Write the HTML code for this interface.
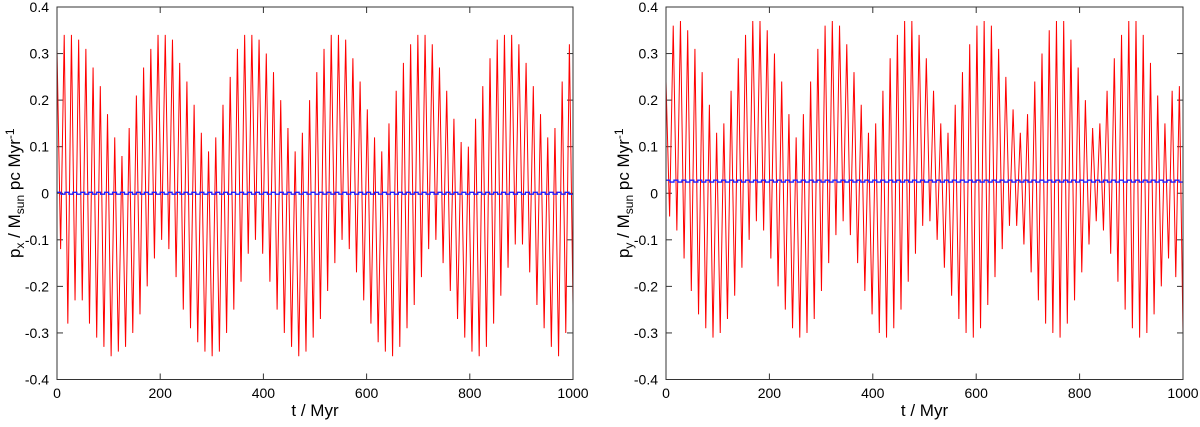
<!DOCTYPE html>
<html><head><meta charset="utf-8"><style>
body{margin:0;background:#fff;}
svg text{font-family:"Liberation Sans",sans-serif;fill:#000;}
</style></head><body>
<svg id="chart" width="1200" height="422" xmlns="http://www.w3.org/2000/svg"></svg>
<script>
const xTicks=[0,200,400,600,800,1000];
const yTicks=[-0.4,-0.3,-0.2,-0.1,0,0.1,0.2,0.3,0.4];
const yTickLabels=["-0.4","-0.3","-0.2","-0.1","0","0.1","0.2","0.3","0.4"];
const leftMax=[0.31,0.34,0.34,0.33,0.31,0.27,0.23,0.17,0.12,
0.08,0.14,0.21,0.27,0.31,0.34,0.34,0.33,0.28,
0.24,0.19,0.13,0.09,0.12,0.19,0.25,0.31,0.34,
0.34,0.33,0.30,0.26,0.20,0.14,0.09,0.13,0.20,
0.26,0.31,0.34,0.34,0.33,0.29,0.24,0.18,0.12,
0.09,0.15,0.22,0.28,0.32,0.34,0.34,0.32,0.27,
0.22,0.16,0.11,0.10,0.16,0.23,0.29,0.33,0.34,
0.34,0.32,0.28,0.23,0.17,0.12,0.14,0.24,0.32];
const leftMin=[-0.12,-0.28,-0.23,-0.23,-0.28,-0.31,-0.33,-0.35,-0.34,
-0.33,-0.30,-0.26,-0.20,-0.14,-0.10,-0.12,-0.18,-0.25,
-0.29,-0.32,-0.34,-0.35,-0.34,-0.30,-0.25,-0.19,-0.13,
-0.10,-0.13,-0.19,-0.25,-0.30,-0.33,-0.35,-0.34,-0.31,
-0.27,-0.21,-0.15,-0.10,-0.12,-0.17,-0.23,-0.28,-0.32,
-0.34,-0.35,-0.33,-0.29,-0.24,-0.18,-0.12,-0.10,-0.15,
-0.21,-0.27,-0.31,-0.34,-0.35,-0.33,-0.28,-0.22,-0.16,
-0.11,-0.11,-0.17,-0.24,-0.29,-0.33,-0.35,-0.30,-0.24];
const rightMax=[0.24,0.36,0.37,0.35,0.31,0.26,0.19,0.13,0.15,
0.22,0.29,0.34,0.37,0.37,0.35,0.30,0.24,0.17,
0.12,0.17,0.24,0.31,0.36,0.37,0.36,0.32,0.26,
0.19,0.13,0.15,0.22,0.29,0.34,0.37,0.37,0.34,
0.29,0.22,0.15,0.13,0.19,0.26,0.32,0.36,0.37,
0.36,0.31,0.25,0.18,0.13,0.17,0.24,0.30,0.35,
0.37,0.37,0.33,0.27,0.20,0.14,0.15,0.22,0.29,
0.34,0.37,0.37,0.34,0.28,0.21,0.15,0.22,0.23];
const rightMin=[-0.05,-0.08,-0.14,-0.21,-0.26,-0.29,-0.31,-0.30,-0.27,
-0.22,-0.16,-0.10,-0.06,-0.08,-0.14,-0.20,-0.25,-0.29,
-0.31,-0.30,-0.27,-0.21,-0.15,-0.09,-0.06,-0.09,-0.15,
-0.21,-0.26,-0.30,-0.31,-0.29,-0.25,-0.19,-0.13,-0.07,
-0.06,-0.10,-0.16,-0.22,-0.27,-0.30,-0.31,-0.29,-0.24,
-0.18,-0.12,-0.07,-0.07,-0.11,-0.17,-0.23,-0.28,-0.30,
-0.31,-0.28,-0.23,-0.17,-0.11,-0.06,-0.08,-0.13,-0.19,
-0.25,-0.29,-0.31,-0.30,-0.26,-0.20,-0.14,-0.18,-0.30];
const leftBlue=[0.002,-0.002];
const rightBlue=[0.028,0.024];

const NS="http://www.w3.org/2000/svg";
const svg=document.getElementById('chart');
function mk(tag,attrs,parent){const e=document.createElementNS(NS,tag);for(const k in attrs)e.setAttribute(k,attrs[k]);(parent||svg).appendChild(e);return e;}

function panel(x0,x1,name,maxArr,minArr,blueArr,sub){
  const y0=7,y1=379.5;
  const xs=t=>x0+(t/1000)*(x1-x0);
  const ys=v=>y1-(v+0.4)/0.8*(y1-y0);
  const g=mk('g',{});
  
  
  yTicks.forEach((v,i)=>{
    const y=ys(v);
    mk('line',{x1:x0,y1:y,x2:x0+6,y2:y,stroke:'#333','stroke-width':1},g);
    mk('line',{x1:x1,y1:y,x2:x1-6,y2:y,stroke:'#333','stroke-width':1},g);
    const t=mk('text',{x:x0-8,y:y+5,'font-size':14,'text-anchor':'end'},g);
    t.textContent=yTickLabels[i];
    
    
  });
  xTicks.forEach(v=>{
    const x=xs(v);
    mk('line',{x1:x,y1:y1,x2:x,y2:y1-6,stroke:'#333','stroke-width':1},g);
    mk('line',{x1:x,y1:y0,x2:x,y2:y0+6,stroke:'#333','stroke-width':1},g);
    const t=mk('text',{x:x,y:398,'font-size':14,'text-anchor':'middle'},g);
    t.textContent=String(v);
    
    
  });
  const n=maxArr.length;
  const total=2*n-1;
  let d='';
  for(let i=0;i<n;i++){
    const tA=(2*i)/total*1000, tB=(2*i+1)/total*1000;
    d+=(i===0?'M':'L')+xs(tA).toFixed(2)+','+ys(maxArr[i]).toFixed(2);
    if(i<minArr.length && tB<=1000) d+='L'+xs(tB).toFixed(2)+','+ys(minArr[i]).toFixed(2);
  }
  const red=mk('path',{d:d,fill:'none',stroke:'#ff0000','stroke-width':1},g);
  
  
  let bd='';
  const steps=130;
  for(let i=0;i<steps;i++){
    const ta=i/steps*1000, tb=(i+1)/steps*1000;
    const v=blueArr[i%blueArr.length];
    bd+=(i===0?'M':'L')+xs(ta).toFixed(2)+','+ys(v).toFixed(2)+'L'+xs(tb).toFixed(2)+','+ys(v).toFixed(2);
  }
  const blue=mk('path',{d:bd,fill:'none',stroke:'#2020ff','stroke-width':1.3},g);
  
  
  mk('rect',{x:x0,y:y0,width:x1-x0,height:y1-y0,fill:'none',stroke:'#333','stroke-width':1},g);
  const xt=mk('text',{x:(x0+x1)/2,y:416,'font-size':17,'text-anchor':'middle'},g);
  xt.textContent='t / Myr';
  
  
  const yt=mk('text',{x:0,y:0,'font-size':17,'text-anchor':'middle',transform:`translate(${x0-37},${(y0+y1)/2}) rotate(-90)`},g);
  yt.innerHTML=`p<tspan font-size="12" dy="4">${sub}</tspan><tspan dy="-4"> / M</tspan><tspan font-size="12" dy="4">sun</tspan><tspan dy="-4"> pc Myr</tspan><tspan font-size="12" dy="-6">-1</tspan>`;
  
  
}
panel(57,573,'px-panel',leftMax,leftMin,leftBlue,'x');
panel(666,1183,'py-panel',rightMax,rightMin,rightBlue,'y');
</script>
</body></html>
